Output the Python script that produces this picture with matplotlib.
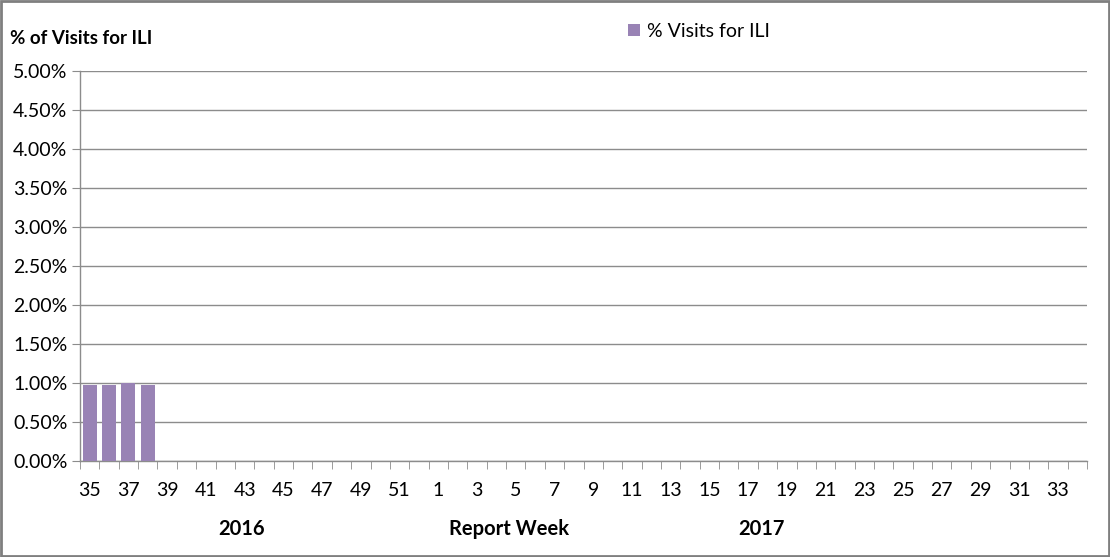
import numpy as np
import matplotlib
matplotlib.use("Agg")
import matplotlib.pyplot as plt
from matplotlib.patches import Rectangle

# ── Data ───────────────────────────────────────────────────────────────────────
WEEKS = [35, 36, 37, 38, 39, 40, 41, 42, 43, 44, 45, 46, 47, 48, 49, 50, 51, 52,
         1, 2, 3, 4, 5, 6, 7, 8, 9, 10, 11, 12, 13, 14, 15, 16, 17, 18, 19, 20,
         21, 22, 23, 24, 25, 26, 27, 28, 29, 30, 31, 32, 33, 34]
# reported weeks so far (first four of the season)
PCT_ILI = [0.98, 0.98, 1.00, 0.98]
Y_TICKS = [0.0, 0.5, 1.0, 1.5, 2.0, 2.5, 3.0, 3.5, 4.0, 4.5, 5.0]

BAR_COLOR = "#9983b5"
GRID_COLOR = "#8c8c8c"

plt.rcParams["font.family"] = ["Lato", "DejaVu Sans"]

fig = plt.figure(figsize=(11.10, 5.57), dpi=100)
ax = fig.add_axes([0.0721, 0.1724, 0.9072, 0.7001])

x = np.arange(len(PCT_ILI))
bars = ax.bar(x, PCT_ILI, width=0.72, color=BAR_COLOR, label="% Visits for ILI", zorder=3)

ax.set_xlim(-0.5, len(WEEKS) - 0.5)
ax.set_ylim(0, 5)

ax.set_yticks(Y_TICKS)
ax.set_yticklabels([f"{v:.2f}%" for v in Y_TICKS], fontsize=14)
ax.yaxis.grid(True, color=GRID_COLOR, linewidth=1, zorder=0)
ax.tick_params(axis="y", length=6, color=GRID_COLOR, pad=3)

ax.set_xticks(np.arange(0, len(WEEKS), 2))
ax.set_xticklabels([str(w) for w in WEEKS[::2]], fontsize=14)
ax.set_xticks(np.arange(-0.5, len(WEEKS)), minor=True)
ax.tick_params(axis="x", which="major", length=0, pad=15)
ax.tick_params(axis="x", which="minor", length=6, color=GRID_COLOR)

for s in ["top", "right"]:
    ax.spines[s].set_visible(False)
for s in ["left", "bottom"]:
    ax.spines[s].set_color(GRID_COLOR)
    ax.spines[s].set_linewidth(1)

fig.text(0.009, 0.930, "% of Visits for ILI", fontsize=13.5, fontweight="bold",
         va="center", ha="left")
fig.text(0.218, 0.051, "2016", fontsize=14.5, fontweight="bold", ha="center", va="center")
fig.text(0.459, 0.051, "Report Week", fontsize=14.5, fontweight="bold", ha="center", va="center")
fig.text(0.686, 0.051, "2017", fontsize=14.5, fontweight="bold", ha="center", va="center")

fig.legend(handles=[bars], labels=["% Visits for ILI"], loc="center left",
           bbox_to_anchor=(0.566, 0.944), frameon=False, borderpad=0,
           borderaxespad=0, fontsize=14, handlelength=0.6, handleheight=0.6,
           handletextpad=0.35)

fig.patches.append(Rectangle((0.001, 0.002), 0.998, 0.996, transform=fig.transFigure,
                             fill=False, edgecolor="#7f7f7f", linewidth=2))

fig.savefig("out.png", dpi=100)
